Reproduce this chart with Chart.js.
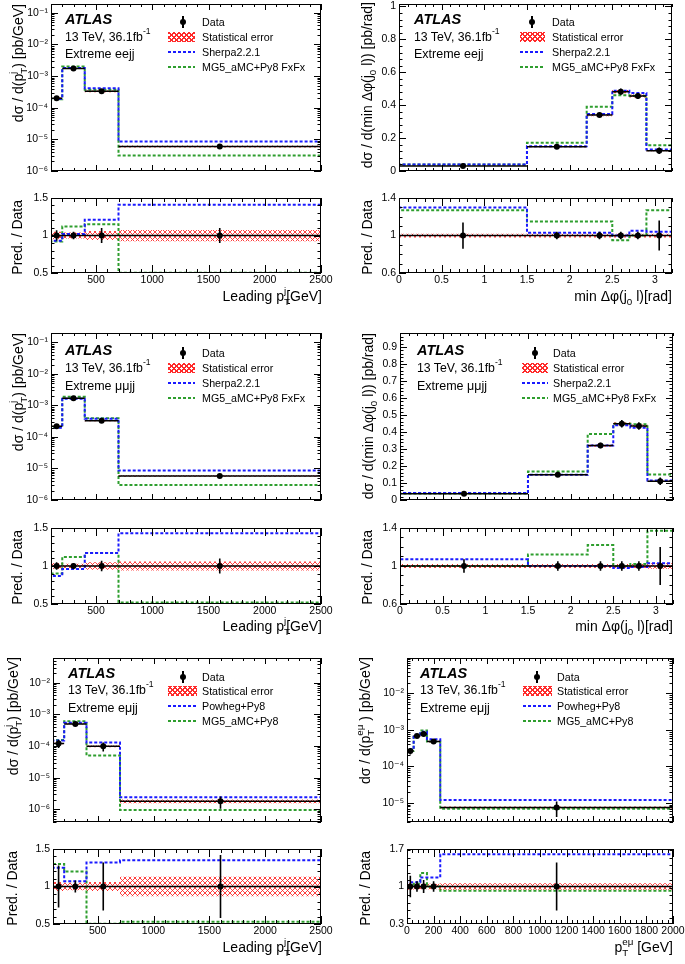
<!DOCTYPE html>
<html>
<head>
<meta charset="utf-8">
<script src="https://cdn.jsdelivr.net/npm/chart.js@4.4.0/dist/chart.umd.min.js"></script>
<style>
  body { margin: 0; width: 685px; height: 964px; overflow: hidden; background: #fff; position: relative;
         font-family: 'Liberation Sans', Arial, 'DejaVu Sans', sans-serif; }
  canvas { position: absolute; }
  .t { position: absolute; left: 0; top: 0; line-height: 1; white-space: nowrap; color: #000; }
  sup, sub { font-size: 0.7em; line-height: 0; }
  sup { vertical-align: 0.75em; }
  sub { vertical-align: -0.45em; }
  .bk { margin-left: -0.62em; }
  .sym { position: absolute; }
</style>
</head>
<body>
<script>
// binning
const ptBins = [100, 200, 400, 700, 2500];
const dphiBins = [0, 1.5, 2.2, 2.5, 2.7, 2.9, 3.2];
const ptEmuBins = [0, 50, 100, 150, 250, 2000];

// tick labels
const ptTicks = [500, 1000, 1500, 2000, 2500];
const dphiTicks = [0, 0.5, 1, 1.5, 2, 2.5, 3];
const ptEmuTicks = [0, 200, 400, 600, 800, 1000, 1200, 1400, 1600, 1800, 2000];
const logTicksJet = [1e-6, 1e-5, 1e-4, 1e-3, 1e-2, 1e-1];
const logTicksEmuJet = [1e-6, 1e-5, 1e-4, 1e-3, 1e-2];
const logTicksEmu = [1e-5, 1e-4, 1e-3, 1e-2];
const dphiYTicksEE = [0, 0.2, 0.4, 0.6, 0.8, 1];
const dphiYTicksMM = [0, 0.1, 0.2, 0.3, 0.4, 0.5, 0.6, 0.7, 0.8, 0.9];
const ratioTicksPt = [0.5, 1, 1.5];
const ratioTicksDphi = [0.6, 1, 1.4];
const ratioTicksEmu = [0.3, 1, 1.7];

// Extreme eejj, leading jet pT
const eePtData = [2.0e-4, 1.75e-3, 3.3e-4, 6.0e-6];
const eePtErr = [0.07, 0.05, 0.1, 0.1];
const eePtStat = [0.05, 0.04, 0.06, 0.075];
const eePtSherpa = [1.9e-4, 1.8e-3, 4.1e-4, 8.6e-6];
const eePtMg5 = [1.85e-4, 2.0e-3, 3.7e-4, 3.1e-6];
const eePtRatioSherpa = [0.93, 1.02, 1.21, 1.41];
const eePtRatioMg5 = [0.92, 1.12, 1.15, 0.505];

// Extreme eejj, min dphi(j0, l)
const eeDphiData = [0.031, 0.148, 0.34, 0.482, 0.456, 0.123];
const eeDphiErr = [0.14, 0.04, 0.04, 0.04, 0.04, 0.16];
const eeDphiStat = [0.02, 0.02, 0.02, 0.02, 0.02, 0.02];
const eeDphiSherpa = [0.039, 0.151, 0.346, 0.488, 0.474, 0.13];
const eeDphiMg5 = [0.04, 0.172, 0.39, 0.46, 0.458, 0.156];
const eeDphiRatioSherpa = [1.30, 1.03, 1.03, 1.0, 1.05, 1.04];
const eeDphiRatioMg5 = [1.27, 1.15, 1.15, 0.95, 1.0, 1.27];

// Extreme mumujj, leading jet pT
const mmPtData = [2.2e-4, 1.7e-3, 3.3e-4, 5.8e-6];
const mmPtErr = [0.05, 0.04, 0.07, 0.1];
const mmPtStat = [0.04, 0.03, 0.05, 0.06];
const mmPtSherpa = [1.95e-4, 1.65e-3, 3.8e-4, 8.6e-6];
const mmPtMg5 = [2.05e-4, 1.9e-3, 3.9e-4, 3.0e-6];
const mmPtRatioSherpa = [0.87, 0.96, 1.17, 1.43];
const mmPtRatioMg5 = [0.9, 1.12, 1.17, 0.52];

// Extreme mumujj, min dphi(j0, l)
const mmDphiData = [0.037, 0.148, 0.32, 0.448, 0.435, 0.11];
const mmDphiErr = [0.07, 0.05, 0.05, 0.05, 0.05, 0.2];
const mmDphiStat = [0.02, 0.02, 0.02, 0.02, 0.02, 0.03];
const mmDphiSherpa = [0.041, 0.148, 0.32, 0.44, 0.425, 0.114];
const mmDphiMg5 = [0.038, 0.167, 0.388, 0.448, 0.446, 0.15];
const mmDphiRatioSherpa = [1.07, 1.0, 1.0, 0.98, 0.99, 1.03];
const mmDphiRatioMg5 = [1.0, 1.12, 1.22, 1.0, 1.02, 1.37];

// Extreme emujj, leading jet pT
const emPtData = [1.2e-4, 5.0e-4, 9.8e-5, 1.8e-6];
const emPtErr = [0.28, 0.08, 0.32, 0.42];
const emPtStat = [0.06, 0.05, 0.06, 0.13];
const emPtPowheg = [1.5e-4, 5.4e-4, 1.3e-4, 2.4e-6];
const emPtMg5 = [1.55e-4, 6.0e-4, 5.0e-5, 0.95e-6];
const emPtRatioPowheg = [1.25, 1.07, 1.32, 1.35];
const emPtRatioMg5 = [1.3, 1.2, 0.505, 0.53];

// Extreme emujj, pT of the e-mu system
const emuData = [2.65e-4, 6.8e-4, 7.8e-4, 4.8e-4, 7.5e-6];
const emuErr = [0.2, 0.1, 0.12, 0.1, 0.45];
const emuStat = [0.06, 0.05, 0.05, 0.05, 0.06];
const emuPowheg = [2.9e-4, 7.4e-4, 8.9e-4, 5.6e-4, 1.2e-5];
const emuMg5 = [2.7e-4, 7.1e-4, 9.7e-4, 4.8e-4, 6.9e-6];
const emuRatioPowheg = [1.08, 1.08, 1.17, 1.17, 1.6];
const emuRatioMg5 = [1.0, 1.05, 1.25, 1.0, 0.92];

const FONT = "'Liberation Sans', Arial, 'DejaVu Sans', sans-serif";
const BLUE = '#1a1aff';
const GREEN = '#2e9e2e';
const RED = '#ff2a2a';
Chart.defaults.font.family = FONT;
Chart.defaults.color = '#000';

const SUP = { '-': '\u207B', '0': '\u2070', '1': '\u00B9', '2': '\u00B2', '3': '\u00B3', '4': '\u2074', '5': '\u2075', '6': '\u2076', '7': '\u2077', '8': '\u2078', '9': '\u2079' };
function logLabel(v) {
  const e = String(Math.round(Math.log10(v)));
  return '10' + e.split('').map(c => SUP[c]).join('');
}
function linLabel(v) { return String(Number(v.toFixed(3))); }

// histogram outline, with drops to the axis at both ends
function hist(edges, vals, base) {
  const pts = [];
  if (base !== undefined) pts.push({ x: edges[0], y: base });
  vals.forEach((v, i) => pts.push({ x: edges[i], y: v }));
  pts.push({ x: edges[edges.length - 1], y: vals[vals.length - 1] });
  if (base !== undefined) pts.push({ x: edges[edges.length - 1], y: base });
  return pts;
}
function bars(edges, vals) {
  const pts = [];
  vals.forEach((v, i) => pts.push({ x: edges[i], y: v }, { x: edges[i + 1], y: v }, { x: edges[i + 1], y: null }));
  return pts;
}
function errs(edges, vals, rel) {
  const pts = [];
  vals.forEach((v, i) => {
    const c = (edges[i] + edges[i + 1]) / 2;
    pts.push({ x: c, y: v * (1 - rel[i]) }, { x: c, y: v * (1 + rel[i]) }, { x: c, y: null });
  });
  return pts;
}
function centres(edges, vals) {
  return vals.map((v, i) => ({ x: (edges[i] + edges[i + 1]) / 2, y: v }));
}
function hatch(ctx) {
  const c = document.createElement('canvas');
  c.width = 5; c.height = 5;
  const g = c.getContext('2d');
  g.strokeStyle = RED; g.lineWidth = 0.9;
  g.beginPath();
  g.moveTo(0, 0); g.lineTo(5, 5);
  g.moveTo(5, 0); g.lineTo(0, 5);
  g.stroke();
  return ctx.createPattern(c, 'repeat');
}

// positions of the tick marks drawn on the frame
function marks(scale, minor, majors) {
  const out = [];
  const lo = scale.min, hi = scale.max;
  if (scale.type === 'logarithmic') {
    for (let e = Math.floor(Math.log10(lo)); e <= Math.ceil(Math.log10(hi)); e++) {
      for (let k = 1; k < 10; k++) {
        const v = k * Math.pow(10, e);
        if (v >= lo * 0.999 && v <= hi * 1.001) out.push([v, k === 1]);
      }
    }
  } else {
    const n0 = Math.ceil(lo / minor - 1e-6), n1 = Math.floor(hi / minor + 1e-6);
    for (let n = n0; n <= n1; n++) {
      const v = n * minor;
      out.push([v, majors.some(m => Math.abs(m - v) < minor * 1e-3)]);
    }
  }
  return out;
}

const frameTicks = {
  id: 'frameTicks',
  afterDraw(chart, args, o) {
    const { ctx, chartArea: a } = chart;
    const xs = chart.scales.x, ys = chart.scales.y;
    ctx.save();
    ctx.strokeStyle = '#000';
    ctx.lineWidth = 1;
    ctx.beginPath();
    marks(xs, o.xMinor, o.xMajors).forEach(([v, big]) => {
      const p = Math.round(xs.getPixelForValue(v)) + 0.5;
      const l = big ? o.xLen : o.xLen / 2;
      ctx.moveTo(p, a.bottom); ctx.lineTo(p, a.bottom - l);
      ctx.moveTo(p, a.top); ctx.lineTo(p, a.top + l);
    });
    marks(ys, o.yMinor, o.yMajors).forEach(([v, big]) => {
      const p = Math.round(ys.getPixelForValue(v)) + 0.5;
      const l = big ? o.yLen : o.yLen / 2;
      ctx.moveTo(a.left, p); ctx.lineTo(a.left + l, p);
      ctx.moveTo(a.right, p); ctx.lineTo(a.right - l, p);
    });
    ctx.stroke();
    ctx.strokeRect(Math.round(a.left) + 0.5, Math.round(a.top) + 0.5, Math.round(a.width) - 1, Math.round(a.height) - 1);
    ctx.restore();
  }
};

function plot(col, frame, s) {
  const box = { l: col.l, r: col.r, t: frame.t - 16, b: frame.b + (s.showX ? 20 : 16) };
  const cv = document.createElement('canvas');
  cv.width = box.r - box.l;
  cv.height = box.b - box.t;
  cv.style.left = box.l + 'px';
  cv.style.top = box.t + 'px';
  document.body.appendChild(cv);
  const pat = hatch(cv.getContext('2d'));
  const line = { pointRadius: 0, fill: false, tension: 0 };

  const datasets = [
    { ...line, data: hist(s.edges, s.vals.map((v, i) => v * (1 + s.stat[i]))), stepped: 'before', borderWidth: 0, order: 10 },
    { ...line, data: hist(s.edges, s.vals.map((v, i) => v * (1 - s.stat[i]))), stepped: 'before', borderWidth: 0,
      fill: '-1', backgroundColor: pat, order: 9 },
    { ...line, data: hist(s.edges, s.predB, s.yMin), stepped: 'before', borderColor: GREEN, borderWidth: 2, borderDash: [3, 2], order: 5 },
    { ...line, data: hist(s.edges, s.predA, s.yMin), stepped: 'before', borderColor: BLUE, borderWidth: 2, borderDash: [3, 2], order: 4 },
    { ...line, data: bars(s.edges, s.vals), borderColor: '#000', borderWidth: 1.5, order: 3 },
    { ...line, data: errs(s.edges, s.vals, s.err), borderColor: '#000', borderWidth: 1.6, order: 2 },
    { ...line, data: centres(s.edges, s.vals), showLine: false, pointRadius: 3, pointBackgroundColor: '#000',
      pointBorderWidth: 0, order: 1 }
  ];

  const tickFont = { family: FONT, size: 10.5 };
  new Chart(cv, {
    type: 'line',
    data: { datasets },
    options: {
      responsive: false,
      animation: false,
      devicePixelRatio: 1,
      events: [],
      layout: { padding: { left: 0, top: frame.t - box.t, right: box.r - frame.r, bottom: s.showX ? 0 : box.b - frame.b } },
      plugins: {
        legend: { display: false },
        tooltip: { enabled: false },
        frameTicks: { xMinor: s.xMinor, xMajors: s.xTicks, yMinor: s.yMinor, yMajors: s.yTicks, xLen: s.showX ? 8 : 6, yLen: 7 }
      },
      scales: {
        x: {
          type: 'linear', min: s.xMin, max: s.xMax, display: !!s.showX,
          afterBuildTicks: sc => { sc.ticks = s.xTicks.map(v => ({ value: v })); },
          afterFit: sc => { sc.height = box.b - frame.b; },
          ticks: { font: tickFont, color: '#000', padding: 1, maxRotation: 0, minRotation: 0, autoSkip: false, callback: v => linLabel(v) },
          grid: { display: false, drawTicks: false },
          border: { display: false }
        },
        y: {
          type: s.yLog ? 'logarithmic' : 'linear', min: s.yMin, max: s.yMax,
          afterBuildTicks: sc => { sc.ticks = s.yTicks.map(v => ({ value: v })); },
          afterFit: sc => { sc.width = frame.l - box.l; },
          ticks: { font: tickFont, color: '#000', padding: 3, autoSkip: false, callback: v => (s.yLog ? logLabel(v) : linLabel(v)) },
          grid: { display: false, drawTicks: false },
          border: { display: false }
        }
      }
    },
    plugins: [frameTicks]
  });
}

function text(html, x, y, size, align) {
  const d = document.createElement('div');
  d.className = 't';
  d.style.fontSize = size + 'px';
  const shift = align === 'right' ? '-100%' : '0';
  d.style.transform = `translate(${x}px, ${y}px) translate(${shift}, -50%)`;
  d.innerHTML = html;
  document.body.appendChild(d);
}
function vtext(html, xc, yTop, size) {
  const d = document.createElement('div');
  d.className = 't';
  d.style.fontSize = size + 'px';
  d.style.transformOrigin = '0 0';
  d.style.transform = `translate(${xc}px, ${yTop}px) rotate(-90deg) translate(-100%, -50%)`;
  d.innerHTML = html;
  document.body.appendChild(d);
}
function sym(css) {
  const d = document.createElement('div');
  d.className = 'sym';
  Object.assign(d.style, css);
  document.body.appendChild(d);
}
function legend(g, names) {
  const [r0, r1, r2, r3] = g.rows;
  const w = g.sx1 - g.sx0;
  sym({ left: (g.mx - 3) + 'px', top: (r0 - 3) + 'px', width: '6px', height: '6px', borderRadius: '50%', background: '#000' });
  sym({ left: (g.mx - 0.75) + 'px', top: (r0 - 6) + 'px', width: '1.5px', height: '12px', background: '#000' });
  sym({ left: g.sx0 + 'px', top: (r1 - 5) + 'px', width: w + 'px', height: '10px',
        background: `repeating-linear-gradient(45deg, ${RED} 0 1px, transparent 1px 3.5px), repeating-linear-gradient(-45deg, ${RED} 0 1px, transparent 1px 3.5px)` });
  sym({ left: g.sx0 + 'px', top: (r2 - 1) + 'px', width: w + 'px', height: '2px',
        background: `repeating-linear-gradient(90deg, ${BLUE} 0 3px, transparent 3px 5px)` });
  sym({ left: g.sx0 + 'px', top: (r3 - 1) + 'px', width: w + 'px', height: '2px',
        background: `repeating-linear-gradient(90deg, ${GREEN} 0 3px, transparent 3px 5px)` });
  names.forEach((n, i) => text(n, g.tx, g.rows[i], 10.7));
}
function atlas(x, ys, channel) {
  text('<b><i>ATLAS</i></b>', x, ys[0], 14.5);
  text('13 TeV, 36.1fb<sup>-1</sup>', x, ys[1], 12.3);
  text(channel, x, ys[2], 12.5);
}

const LEFT = { l: 0, r: 360 };
const RIGHT = { l: 340, r: 710 };
const sherpaNames = ['Data', 'Statistical error', 'Sherpa2.2.1', 'MG5_aMC+Py8 FxFx'];
const powhegNames = ['Data', 'Statistical error', 'Powheg+Py8', 'MG5_aMC+Py8'];
const ones = n => new Array(n).fill(1);

const yPt = 'd&sigma; / d(p<sub>T</sub><sup class="bk">j</sup> ) [pb/GeV]';
const yDphi = 'd&sigma; / d(min &Delta;&phi;(j<sub>0</sub> l)) [pb/rad]';
const yEmu = 'd&sigma; / d(p<sub>T</sub><sup class="bk">e&mu;</sup> ) [pb/GeV]';
const xPt = 'Leading p<sub>T</sub><sup class="bk">j</sup>[GeV]';
const xDphi = 'min &Delta;&phi;(j<sub>0</sub> l)[rad]';
const xEmu = 'p<sub>T</sub><sup class="bk">e&mu;</sup> [GeV]';

const panels = [
  { col: LEFT, main: { l: 51, r: 321, t: 4, b: 187 }, ratio: { l: 51, r: 321, t: 198, b: 273 },
    edges: ptBins, vals: eePtData, err: eePtErr, stat: eePtStat, predA: eePtSherpa, predB: eePtMg5,
    ratA: eePtRatioSherpa, ratB: eePtRatioMg5,
    x: [100, 2500, ptTicks, 100], yLog: true, y: [1e-6, 0.19, logTicksJet, 0], r: [0.5, 1.5, ratioTicksPt, 0.1],
    atlas: [65, [19, 37, 54], 'Extreme eejj'], leg: { sx0: 168, sx1: 195, mx: 183, tx: 202, rows: [22, 37, 52, 67] }, names: sherpaNames,
    ytitle: [yPt, 18, 4], rtitle: [17, 200], xtitle: [xPt, 322, 296] },
  { col: RIGHT, main: { l: 399, r: 672, t: 4, b: 187 }, ratio: { l: 399, r: 672, t: 198, b: 273 },
    edges: dphiBins, vals: eeDphiData, err: eeDphiErr, stat: eeDphiStat, predA: eeDphiSherpa, predB: eeDphiMg5,
    ratA: eeDphiRatioSherpa, ratB: eeDphiRatioMg5,
    x: [0, 3.2, dphiTicks, 0.1], yLog: false, y: [0, 1.015, dphiYTicksEE, 0.04], r: [0.6, 1.4, ratioTicksDphi, 0.1],
    atlas: [414, [19, 37, 54], 'Extreme eejj'], leg: { sx0: 520, sx1: 545, mx: 532, tx: 552, rows: [22, 37, 52, 67] }, names: sherpaNames,
    ytitle: [yDphi, 367, 2], rtitle: [367, 200], xtitle: [xDphi, 672, 296] },
  { col: LEFT, main: { l: 51, r: 321, t: 333, b: 516 }, ratio: { l: 51, r: 321, t: 528, b: 604 },
    edges: ptBins, vals: mmPtData, err: mmPtErr, stat: mmPtStat, predA: mmPtSherpa, predB: mmPtMg5,
    ratA: mmPtRatioSherpa, ratB: mmPtRatioMg5,
    x: [100, 2500, ptTicks, 100], yLog: true, y: [1e-6, 0.2, logTicksJet, 0], r: [0.5, 1.5, ratioTicksPt, 0.1],
    atlas: [65, [350, 368, 386], 'Extreme &mu;&mu;jj'], leg: { sx0: 168, sx1: 195, mx: 183, tx: 202, rows: [353, 368, 383, 398] }, names: sherpaNames,
    ytitle: [yPt, 18, 333], rtitle: [17, 530], xtitle: [xPt, 322, 626] },
  { col: RIGHT, main: { l: 400, r: 673, t: 333, b: 516 }, ratio: { l: 400, r: 673, t: 528, b: 604 },
    edges: dphiBins, vals: mmDphiData, err: mmDphiErr, stat: mmDphiStat, predA: mmDphiSherpa, predB: mmDphiMg5,
    ratA: mmDphiRatioSherpa, ratB: mmDphiRatioMg5,
    x: [0, 3.2, dphiTicks, 0.1], yLog: false, y: [0, 0.982, dphiYTicksMM, 0.02], r: [0.6, 1.4, ratioTicksDphi, 0.1],
    atlas: [417, [350, 368, 386], 'Extreme &mu;&mu;jj'], leg: { sx0: 522, sx1: 548, mx: 535, tx: 553, rows: [353, 368, 383, 398] }, names: sherpaNames,
    ytitle: [yDphi, 368, 333], rtitle: [367, 530], xtitle: [xDphi, 673, 626] },
  { col: LEFT, main: { l: 53, r: 321, t: 658, b: 838 }, ratio: { l: 53, r: 321, t: 849, b: 924 },
    edges: ptBins, vals: emPtData, err: emPtErr, stat: emPtStat, predA: emPtPowheg, predB: emPtMg5,
    ratA: emPtRatioPowheg, ratB: emPtRatioMg5,
    x: [100, 2500, ptTicks, 100], yLog: true, y: [4e-7, 0.06, logTicksEmuJet, 0], r: [0.5, 1.5, ratioTicksPt, 0.1],
    atlas: [68, [673, 690, 708], 'Extreme e&mu;jj'], leg: { sx0: 168, sx1: 197, mx: 183, tx: 202, rows: [677, 691, 706, 721] }, names: powhegNames,
    ytitle: [yPt, 12.5, 657], rtitle: [12, 851], xtitle: [xPt, 322, 947] },
  { col: RIGHT, main: { l: 407, r: 673, t: 658, b: 838 }, ratio: { l: 407, r: 673, t: 849, b: 924 },
    edges: ptEmuBins, vals: emuData, err: emuErr, stat: emuStat, predA: emuPowheg, predB: emuMg5,
    ratA: emuRatioPowheg, ratB: emuRatioMg5,
    x: [0, 2000, ptEmuTicks, 40], yLog: true, y: [3e-6, 0.094, logTicksEmu, 0], r: [0.3, 1.7, ratioTicksEmu, 0.14],
    atlas: [420, [673, 690, 708], 'Extreme e&mu;jj'], leg: { sx0: 523, sx1: 552, mx: 537, tx: 557, rows: [677, 691, 706, 721] }, names: powhegNames,
    ytitle: [yEmu, 365, 657], rtitle: [365, 851], xtitle: [xEmu, 673, 947] }
];

panels.forEach(p => {
  const [xMin, xMax, xTicks, xMinor] = p.x;
  plot(p.col, p.main, {
    edges: p.edges, vals: p.vals, err: p.err, stat: p.stat, predA: p.predA, predB: p.predB,
    xMin, xMax, xTicks, xMinor, showX: false,
    yLog: p.yLog, yMin: p.y[0], yMax: p.y[1], yTicks: p.y[2], yMinor: p.y[3]
  });
  plot(p.col, p.ratio, {
    edges: p.edges, vals: ones(p.vals.length), err: p.err, stat: p.stat, predA: p.ratA, predB: p.ratB,
    xMin, xMax, xTicks, xMinor, showX: true,
    yLog: false, yMin: p.r[0], yMax: p.r[1], yTicks: p.r[2], yMinor: p.r[3]
  });
  atlas(p.atlas[0], p.atlas[1], p.atlas[2]);
  legend(p.leg, p.names);
  vtext(p.ytitle[0], p.ytitle[1], p.ytitle[2], 14);
  vtext('Pred. / Data', p.rtitle[0], p.rtitle[1], 14);
  text(p.xtitle[0], p.xtitle[1], p.xtitle[2], 14, 'right');
});
</script>
</body>
</html>
